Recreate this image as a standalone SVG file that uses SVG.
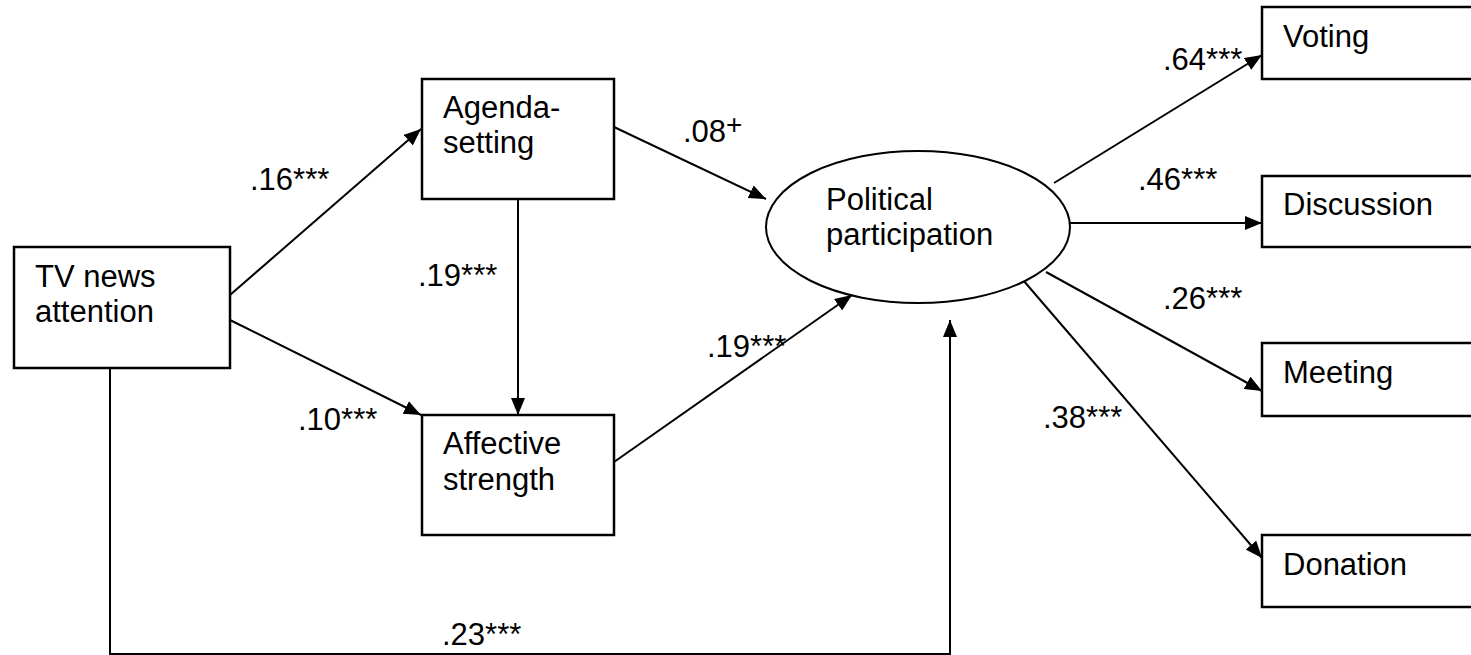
<svg xmlns="http://www.w3.org/2000/svg" width="1471" height="655" viewBox="0 0 1471 655">
<style>
  .box { fill: #fff; stroke: #000; stroke-width: 2.5; }
  .t { font-family: "Liberation Sans", Arial, sans-serif; font-size: 31px; fill: #000; }
  .c { fill: none; stroke: #000; stroke-width: 2; marker-end: url(#ah); }
  .p { fill: none; stroke: #000; stroke-width: 2; }
</style>
<defs>
  <marker id="ah" viewBox="0 0 17 14" markerWidth="17" markerHeight="14" refX="17" refY="7" orient="auto" markerUnits="userSpaceOnUse">
    <path d="M0,0 L17,7 L0,14 z" fill="#000"/>
  </marker>
</defs>
<rect width="1471" height="655" fill="#fff"/>

<g id="connectors">
  <line class="c" x1="230" y1="295" x2="421" y2="129"/>
  <line class="c" x1="230" y1="320" x2="421" y2="415"/>
  <line class="c" x1="518" y1="199" x2="518" y2="415"/>
  <line class="c" x1="614" y1="127" x2="766" y2="199"/>
  <line class="c" x1="614" y1="462" x2="852" y2="295"/>
  <polyline class="c" points="110,368 110,654 950,654 950,320"/>
  <line class="c" x1="1054" y1="183" x2="1262" y2="55"/>
  <line class="c" x1="1070" y1="223" x2="1262" y2="223"/>
  <line class="c" x1="1046" y1="272" x2="1262" y2="391"/>
  <line class="c" x1="1023" y1="280" x2="1262" y2="558"/>
</g>

<g id="labels">
  <text class="t" x="250" y="190">.16***</text>
  <text class="t" x="418" y="286">.19***</text>
  <text class="t" x="683" y="142">.08</text>
  <text class="t" x="726" y="134" style="font-size:28px">+</text>
  <text class="t" x="707" y="357">.19***</text>
  <text class="t" x="298" y="430">.10***</text>
  <text class="t" x="442" y="645">.23***</text>
  <text class="t" x="1163" y="70">.64***</text>
  <text class="t" x="1138" y="190">.46***</text>
  <text class="t" x="1163" y="309">.26***</text>
  <text class="t" x="1043" y="428">.38***</text>
</g>

<g id="tv-news">
  <rect class="box" x="14" y="247" width="216" height="121"/>
  <text class="t" x="35" y="287">TV news</text>
  <text class="t" x="35" y="322">attention</text>
</g>
<g id="agenda-setting">
  <rect class="box" x="422" y="79" width="192" height="120"/>
  <text class="t" x="443" y="118">Agenda-</text>
  <text class="t" x="443" y="153">setting</text>
</g>
<g id="affective-strength">
  <rect class="box" x="422" y="415" width="192" height="120"/>
  <text class="t" x="443" y="454">Affective</text>
  <text class="t" x="443" y="490">strength</text>
</g>
<g id="political-participation">
  <ellipse class="box" cx="918" cy="227" rx="152" ry="76" style="stroke-width:2"/>
  <text class="t" x="826" y="210">Political</text>
  <text class="t" x="826" y="245">participation</text>
</g>
<g id="voting">
  <rect class="box" x="1262" y="7" width="220" height="72"/>
  <text class="t" x="1283" y="47">Voting</text>
</g>
<g id="discussion">
  <rect class="box" x="1262" y="176" width="220" height="71"/>
  <text class="t" x="1283" y="215">Discussion</text>
</g>
<g id="meeting">
  <rect class="box" x="1262" y="343" width="220" height="73"/>
  <text class="t" x="1283" y="383">Meeting</text>
</g>
<g id="donation">
  <rect class="box" x="1262" y="535" width="220" height="72"/>
  <text class="t" x="1283" y="575">Donation</text>
</g>
</svg>
